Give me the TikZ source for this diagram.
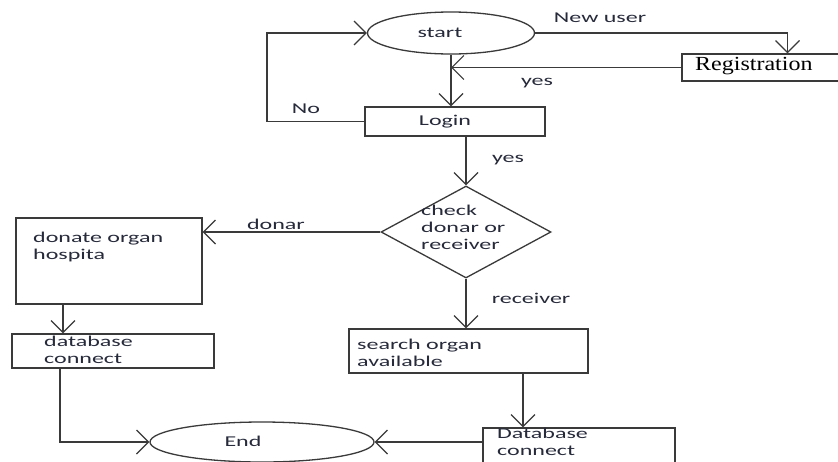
\documentclass[tikz,border=0pt]{standalone}
\usepackage{fontspec}
\usetikzlibrary{shapes.geometric,arrows.meta}
\newfontfamily\lab[FakeStretch=1.6]{Carlito}
\newfontfamily\regfont[FakeStretch=1.2]{Liberation Serif}
\definecolor{linec}{HTML}{3A3A3A}
\definecolor{textc}{HTML}{262A3A}
\tikzset{
  shapebox/.style={draw=linec, line width=1.3pt, rectangle, inner sep=0pt},
  oval/.style={draw=linec, line width=1.3pt, ellipse, inner sep=0pt},
  decision/.style={draw=linec, line width=1.3pt, diamond, inner sep=0pt},
  conn/.style={draw=linec, line width=1.3pt},
  arr/.style={conn, -{Straight Barb[length=12pt,width=24pt,line width=1.2pt]}},
  txt/.style={inner sep=0pt, text=textc, font=\lab\fontsize{15}{17}\selectfont, align=left},
}
\begin{document}
\begin{tikzpicture}[x=1pt,y=-1pt]
\useasboundingbox (0,0) rectangle (838,461);
\clip (0,0) rectangle (838,461);
\fill[white] (0,0) rectangle (838,461);

% shapes
\node[oval, minimum width=167pt, minimum height=42pt] (start) at (451,33) {};
\node[shapebox, minimum width=180pt, minimum height=29pt] (login) at (455,121.5) {};
\node[shapebox, minimum width=163pt, minimum height=27pt] (reg) at (763.5,67.5) {};
\node[decision, minimum width=170pt, minimum height=92pt] (dia) at (466,232) {};
\node[shapebox, minimum width=186pt, minimum height=86pt] (donate) at (109,261) {};
\node[shapebox, minimum width=202pt, minimum height=34pt] (db1) at (113,351) {};
\node[shapebox, minimum width=239pt, minimum height=44pt] (search) at (468.5,351) {};
\node[shapebox, minimum width=192pt, minimum height=42pt] (db2) at (579,449) {};
\node[oval, minimum width=224pt, minimum height=40pt] (end) at (262,442) {};

% texts
\node[txt] (startT) at (440,33) {start};
\node[txt] (loginT) at (445,122) {Login};
\node[txt] (endT) at (243,441) {End};
\node[inner sep=0pt, anchor=west, text=black, font=\regfont\fontsize{20}{22}\selectfont] (regT) at (695,66) {Registration};
\node[txt, anchor=west] (diaT) at (421,227) {check\\donar or\\receiver};
\node[txt, anchor=west] (donateT) at (33,247) {donate organ\\hospita};
\node[txt, anchor=west] (db1T) at (44,350) {database\\connect};
\node[txt, anchor=west] (searchT) at (357,353) {search organ\\available};
\node[txt, anchor=west] (db2T) at (497,442) {Database\\connect};

% labels
\node[txt] (lnew) at (600,18) {New user};
\node[txt] (lyes1) at (537,83) {yes};
\node[txt] (lno) at (306,109) {No};
\node[txt] (lyes2) at (508,160) {yes};
\node[txt] (ldonar) at (276,224) {donar};
\node[txt] (lrec) at (531,298) {receiver};

% helper coordinates
\coordinate (loopx) at (267,0);
\coordinate (c1) at (63,0);
\coordinate (c2) at (60,0);
\coordinate (c3) at (523,0);

% connectors
\draw[arr] (start.south) -- (start.south |- login.north);
\draw[arr] (login.west) -- (login.west -| loopx) |- (start.west);
\draw[arr] (start.east) -| ([xshift=24pt]reg.north);
\draw[arr] (reg.west) -- (reg.west -| start.south);
\draw[arr] (dia.north |- login.south) -- (dia.north);
\draw[arr] (dia.west) -- (dia.west -| donate.east);
\draw[arr] (c1 |- donate.south) -- (c1 |- db1.north);
\draw[arr] (c2 |- db1.south) |- (end.west);
\draw[arr] (dia.south) -- (dia.south |- search.north);
\draw[arr] (c3 |- search.south) -- (c3 |- db2.north);
\draw[arr] (db2.west |- end.east) -- (end.east);
\end{tikzpicture}
\end{document}
